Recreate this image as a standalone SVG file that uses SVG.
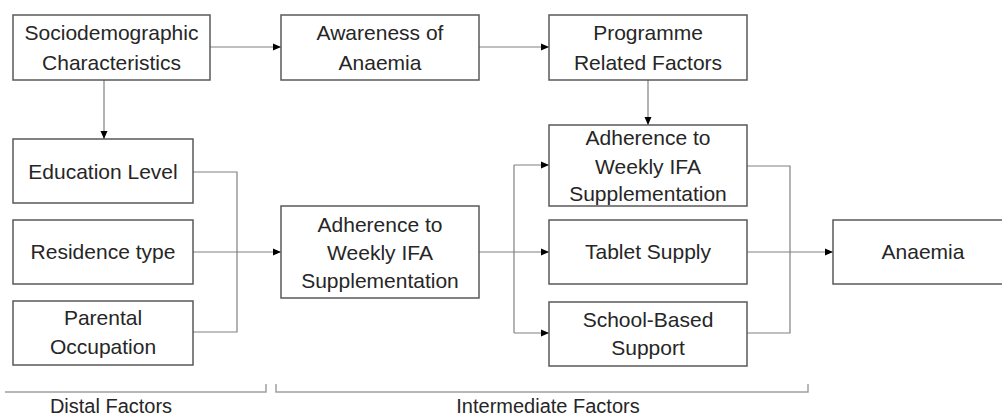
<svg xmlns="http://www.w3.org/2000/svg" width="1002" height="416" viewBox="0 0 1002 416">
<style>
.box{fill:#ffffff;stroke:#595959;stroke-width:1.5}
.t{font-family:"Liberation Sans",Arial,sans-serif;font-size:21px;fill:#262626;text-anchor:middle}
.c{fill:none;stroke:#808080;stroke-width:1.2}
.a{marker-end:url(#ah)}
.br{fill:none;stroke:#a0a0a0;stroke-width:1.5}
</style>
<defs>
<marker id="ah" markerUnits="userSpaceOnUse" markerWidth="10" markerHeight="10" refX="9" refY="5" orient="auto">
<path d="M1,1.5 L9,5 L1,8.5 Z" fill="#000"/>
</marker>
</defs>
<rect width="1002" height="416" fill="#ffffff"/>
<g id="connectors">
<path class="c a" d="M210,47 H281"/>
<path class="c a" d="M104,80 V139"/>
<path class="c a" d="M479,47 H549"/>
<path class="c a" d="M648,80 V125"/>
<path class="c" d="M193,172 H237 V332 H193"/>
<path class="c a" d="M193,252 H281"/>
<path class="c a" d="M479,252 H549"/>
<path class="c" d="M514,165 V333"/>
<path class="c a" d="M514,165 H549"/>
<path class="c a" d="M514,333 H549"/>
<path class="c" d="M747,166 H790 V333 H747"/>
<path class="c a" d="M747,252 H833"/>
</g>
<g id="socio"><rect class="box" x="13" y="15" width="197" height="65"/><text class="t" x="111.5" y="40">Sociodemographic</text><text class="t" x="111.5" y="70">Characteristics</text></g>
<g id="awareness"><rect class="box" x="281" y="15" width="198" height="65"/><text class="t" x="380" y="40">Awareness of</text><text class="t" x="380" y="70">Anaemia</text></g>
<g id="programme"><rect class="box" x="549" y="15" width="198" height="65"/><text class="t" x="648" y="40">Programme</text><text class="t" x="648" y="70">Related Factors</text></g>
<g id="education"><rect class="box" x="13" y="139" width="180" height="64"/><text class="t" x="103" y="179">Education Level</text></g>
<g id="residence"><rect class="box" x="13" y="220" width="180" height="64"/><text class="t" x="103" y="259">Residence type</text></g>
<g id="parental"><rect class="box" x="13" y="301" width="180" height="64"/><text class="t" x="103" y="325">Parental</text><text class="t" x="103" y="354">Occupation</text></g>
<g id="adherence1"><rect class="box" x="281" y="206" width="198" height="92"/><text class="t" x="380" y="232">Adherence to</text><text class="t" x="380" y="260">Weekly IFA</text><text class="t" x="380" y="288">Supplementation</text></g>
<g id="adherence2"><rect class="box" x="549" y="125" width="198" height="81"/><text class="t" x="648" y="145">Adherence to</text><text class="t" x="648" y="174">Weekly IFA</text><text class="t" x="648" y="201">Supplementation</text></g>
<g id="tablet"><rect class="box" x="549" y="220" width="198" height="64"/><text class="t" x="648" y="259">Tablet Supply</text></g>
<g id="school"><rect class="box" x="549" y="302" width="198" height="64"/><text class="t" x="648" y="327">School-Based</text><text class="t" x="648" y="355">Support</text></g>
<g id="anaemia"><rect class="box" x="833" y="220" width="180" height="64"/><text class="t" x="923" y="259">Anaemia</text></g>
<g id="brackets">
<path class="br" d="M5,392 H266 V384"/>
<path class="br" d="M276,384 V392 H808 V384"/>
<text class="t" x="111" y="413" style="font-size:20px">Distal Factors</text>
<text class="t" x="548" y="413" style="font-size:20px">Intermediate Factors</text>
</g>
</svg>
